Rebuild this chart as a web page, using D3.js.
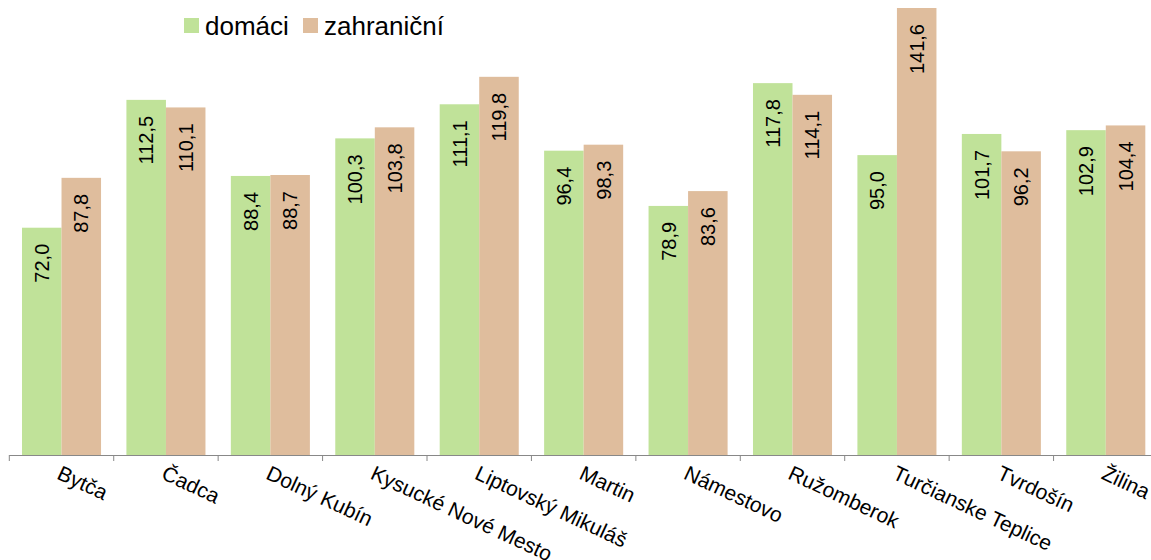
<!DOCTYPE html>
<html lang="sk">
<head>
<meta charset="UTF-8">
<title>domáci / zahraniční</title>
<script src="https://d3js.org/d3.v7.min.js"></script>
<style>
    body { margin: 0; background: #ffffff; }
    svg { display: block; font-family: "Liberation Sans", Arial, sans-serif; }
    .val { font-size: 20px; fill: #000; }
    .cat { font-size: 21px; fill: #000; }
    .leg { font-size: 26px; fill: #000; }
</style>
</head>
<body>
<div id="chart"></div>
<script>
// data
const categories = ["Bytča", "Čadca", "Dolný Kubín", "Kysucké Nové Mesto", "Liptovský Mikuláš",
    "Martin", "Námestovo", "Ružomberok", "Turčianske Teplice", "Tvrdošín", "Žilina"];
const seriesNames = ["domáci", "zahraniční"];
const domaci = [72.0, 112.5, 88.4, 100.3, 111.1, 96.4, 78.9, 117.8, 95.0, 101.7, 102.9];
const zahranicni = [87.8, 110.1, 88.7, 103.8, 119.8, 98.3, 83.6, 114.1, 141.6, 96.2, 104.4];
const colors = ["#c0e299", "#dfbd9d"];

const W = 1151, H = 560;
const base = 455, axisLeft = 9.3, axisRight = 1158;

const svg = d3.select("#chart").append("svg")
    .attr("width", W)
    .attr("height", H);

const x0 = d3.scaleBand()
    .domain(categories)
    .range([axisLeft, axisRight])
    .paddingInner(0.243)
    .paddingOuter(0.1215);

const x1 = d3.scaleBand()
    .domain(seriesNames)
    .range([0, x0.bandwidth()]);

const yMax = d3.max(domaci.concat(zahranicni));
const y = d3.scaleLinear()
    .domain([0, yMax])
    .range([base, 8]);

const rows = categories.map((c, i) => ({ cat: c, vals: [domaci[i], zahranicni[i]] }));

const groups = svg.selectAll("g.grp")
    .data(rows)
    .enter().append("g")
    .attr("class", "grp")
    .attr("transform", d => `translate(${x0(d.cat)},0)`);

groups.selectAll("rect")
    .data(d => d.vals.map((v, k) => ({ k: k, v: v })))
    .enter().append("rect")
    .attr("x", d => x1(seriesNames[d.k]))
    .attr("y", d => y(d.v))
    .attr("width", x1.bandwidth())
    .attr("height", d => base - y(d.v))
    .attr("fill", d => colors[d.k]);

// value labels, rotated, near top of bar
groups.selectAll("text.val")
    .data(d => d.vals.map((v, k) => ({ k: k, v: v })))
    .enter().append("text")
    .attr("class", "val")
    .attr("text-anchor", "end")
    .attr("dy", "0.36em")
    .attr("transform", d => `translate(${x1(seriesNames[d.k]) + x1.bandwidth() / 2},${y(d.v) + 16}) rotate(-90)`)
    .text(d => d3.format(".1f")(d.v).replace(".", ","));

// axis
const step = x0.step();
const tickPos = d3.range(categories.length + 1).map(i => axisLeft + i * step);
svg.append("line")
    .attr("x1", axisLeft).attr("x2", axisRight)
    .attr("y1", base + 0.5).attr("y2", base + 0.5)
    .attr("stroke", "#888").attr("stroke-width", 1);
svg.selectAll("line.tick")
    .data(tickPos)
    .enter().append("line")
    .attr("class", "tick")
    .attr("x1", d => d).attr("x2", d => d)
    .attr("y1", base).attr("y2", base + 6)
    .attr("stroke", "#888").attr("stroke-width", 1);

svg.selectAll("text.cat")
    .data(categories)
    .enter().append("text")
    .attr("class", "cat")
    .attr("dy", "0.75em")
    .attr("transform", d => `translate(${x0(d) + x0.bandwidth() / 2 + 1},${base + 9}) rotate(25)`)
    .text(d => d);

// legend
const legend = svg.append("g");
const legX = [184, 303];
seriesNames.forEach((s, k) => {
    legend.append("rect")
        .attr("x", legX[k]).attr("y", 18)
        .attr("width", 15).attr("height", 15)
        .attr("fill", colors[k]);
    legend.append("text")
        .attr("class", "leg")
        .attr("x", legX[k] + 21).attr("y", 35)
        .text(s);
});
</script>
</body>
</html>
